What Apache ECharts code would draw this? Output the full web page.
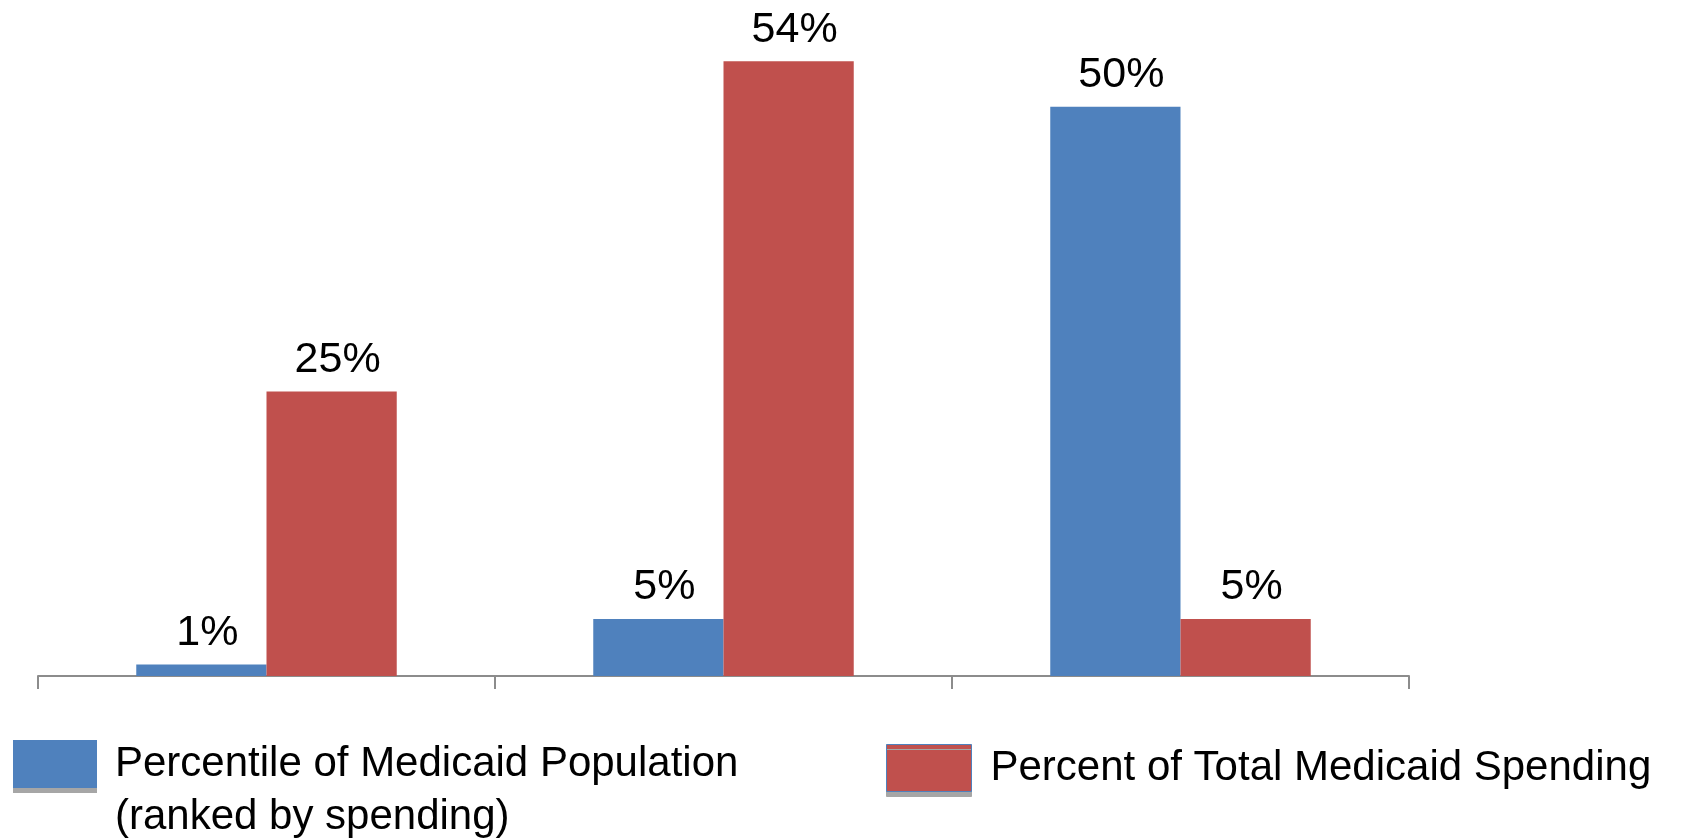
<!DOCTYPE html>
<html>
<head>
<meta charset="utf-8">
<script src="https://cdn.jsdelivr.net/npm/echarts@6/dist/echarts.min.js"></script>
<style>
  html, body { margin: 0; padding: 0; background: #fff; }
  #chart { width: 1683px; height: 838px; }
</style>
</head>
<body>
<div id="chart"></div>
<script>
var categories = ['Top 1%', 'Top 5%', 'Bottom 50%'];
var populationName = 'Percentile of Medicaid Population';
var populationNote = '(ranked by spending)';
var spendingName = 'Percent of Total Medicaid Spending';
var populationValues = [1, 5, 50];
var spendingValues = [25, 54, 5];

var dom = document.getElementById('chart');
var myChart = echarts.init(dom, null, { renderer: 'canvas' });
var font = 'Liberation Sans, Arial, sans-serif';

var option = {
  animation: false,
  textStyle: { fontFamily: font },
  grid: { left: 38, right: 274, top: 10, bottom: 162 },
  legend: [
    {
      data: [populationName],
      icon: 'rect',
      left: 13,
      top: 740,
      padding: 0,
      itemWidth: 84,
      itemHeight: 48,
      itemStyle: { shadowColor: '#a6a6a6', shadowOffsetY: 5, shadowBlur: 0 },
      textStyle: { fontSize: 42, color: '#000', fontFamily: font, padding: [0, 0, 0, 13] }
    },
    {
      data: [spendingName],
      icon: 'rect',
      left: 886,
      top: 744,
      padding: 0,
      itemWidth: 85,
      itemHeight: 47,
      itemStyle: { shadowColor: '#a6a6a6', shadowOffsetY: 5, shadowBlur: 0, borderColor: '#4f81bd', borderWidth: 1 },
      textStyle: { fontSize: 42, color: '#000', fontFamily: font, padding: [0, 0, 0, 14] }
    }
  ],
  graphic: [
    {
      type: 'text',
      left: 115,
      top: 796,
      style: { text: populationNote, fontSize: 42, fill: '#000', fontFamily: font }
    }
  ],
  xAxis: {
    type: 'category',
    data: categories,
    axisLine: { lineStyle: { color: '#8c8c8c', width: 2 } },
    axisTick: { show: true, length: 13, lineStyle: { color: '#8c8c8c', width: 2 } },
    axisLabel: { show: false }
  },
  yAxis: {
    type: 'value',
    min: 0,
    max: 58.5,
    show: false,
    splitLine: { show: false }
  },
  series: [
    {
      name: populationName,
      type: 'bar',
      data: populationValues,
      barGap: '0%',
      barCategoryGap: '43%',
      itemStyle: { color: '#4f81bd' },
      label: {
        show: true,
        position: 'top',
        distance: 10,
        offset: [6, 0],
        formatter: '{c}%',
        fontSize: 43,
        color: '#000',
        fontFamily: font
      }
    },
    {
      name: spendingName,
      type: 'bar',
      data: spendingValues,
      barGap: '0%',
      barCategoryGap: '43%',
      itemStyle: { color: '#c0504d' },
      label: {
        show: true,
        position: 'top',
        distance: 10,
        offset: [6, 0],
        formatter: '{c}%',
        fontSize: 43,
        color: '#000',
        fontFamily: font
      }
    }
  ]
};

myChart.setOption(option);
window.addEventListener('resize', myChart.resize);
</script>
</body>
</html>
